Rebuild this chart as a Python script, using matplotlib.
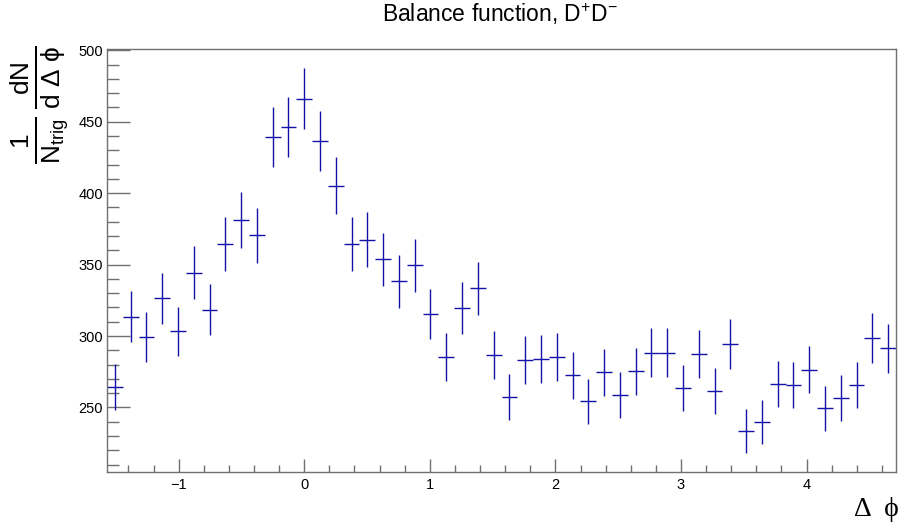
import numpy as np
import matplotlib
matplotlib.use('Agg')
import matplotlib.pyplot as plt
from matplotlib.ticker import MultipleLocator

plt.rcParams['font.family'] = ['Liberation Sans', 'DejaVu Sans']
plt.rcParams['mathtext.fontset'] = 'custom'
plt.rcParams['mathtext.rm'] = 'Liberation Sans'
plt.rcParams['mathtext.it'] = 'Liberation Sans:italic'

# delta phi histogram, 50 bins from -pi/2 to 3pi/2
n_bins = 50
counts = [264.3, 313.5, 299.3, 326.3, 303.2, 344.3, 318.4, 364.3, 381.3, 370.4,
          439.4, 446.4, 466.2, 436.4, 405.3, 364.3, 367.3, 353.6, 338.2, 349.4,
          315.4, 285.3, 319.6, 333.3, 286.7, 257.3, 283.4, 284.1, 285.3, 272.5,
          254.3, 274.6, 258.5, 275.3, 288.3, 288.3, 263.4, 287.4, 261.3, 294.4,
          233.6, 239.6, 266.4, 265.7, 276.4, 249.4, 256.6, 265.7, 298.6, 291.3]
errors = [16.3, 17.7, 17.3, 18.1, 17.4, 18.6, 17.8, 19.1, 19.5, 19.2,
          21.0, 21.1, 21.6, 20.9, 20.1, 19.1, 19.2, 18.8, 18.4, 18.7,
          17.8, 16.9, 17.9, 18.3, 16.9, 16.0, 16.8, 16.9, 16.9, 16.5,
          15.9, 16.6, 16.1, 16.6, 17.0, 17.0, 16.2, 17.0, 16.2, 17.2,
          15.3, 15.5, 16.3, 16.3, 16.6, 15.8, 16.0, 16.3, 17.3, 17.1]

edges = np.linspace(-np.pi / 2, 3 * np.pi / 2, n_bins + 1)
centers = 0.5 * (edges[:-1] + edges[1:])
half_w = 0.5 * (edges[1] - edges[0])

fig = plt.figure(figsize=(8.98, 5.27), dpi=100)
ax = fig.add_axes([107 / 898, 1 - 472 / 527, (896 - 107) / 898, (472 - 49) / 527])

ax.errorbar(centers, counts, yerr=errors, xerr=half_w, fmt='none',
            ecolor='#1212a8', elinewidth=1.0, capsize=0)

ax.set_xlim(edges[0], edges[-1])
ax.set_ylim(204.8, 500.9)

ax.xaxis.set_major_locator(MultipleLocator(1))
ax.xaxis.set_minor_locator(MultipleLocator(0.2))
ax.yaxis.set_major_locator(MultipleLocator(50))
ax.yaxis.set_minor_locator(MultipleLocator(10))

for s in ax.spines.values():
    s.set_color('#707070')
    s.set_linewidth(1.0)

ax.tick_params(axis='both', which='both', direction='in', color='#707070',
               width=1.0, labelsize=10.5, top=False, right=False)
ax.tick_params(axis='y', which='major', length=16.5, pad=3)
ax.tick_params(axis='y', which='minor', length=8.5)
ax.tick_params(axis='x', which='major', length=9.5, pad=4)
ax.tick_params(axis='x', which='minor', length=4.7)

fig.text(500 / 898, 1 - 14 / 527, r'Balance function, D$^{+}$D$^{-}$',
         ha='center', va='center', fontsize=16.5)

fig.text(40 / 898, 1 - 105 / 527,
         r'$\frac{1}{\mathrm{N}_{\mathrm{trig}}}\,\frac{\mathrm{dN}}{\mathrm{d\ Δ\ ϕ}}$',
         rotation=90, ha='center', va='center', fontsize=27)

fig.text(876 / 898, 1 - 509 / 527, 'Δ  ϕ', ha='center', va='center',
         fontsize=20, family=['Liberation Serif', 'DejaVu Serif'])

fig.savefig('out.png', dpi=100)
